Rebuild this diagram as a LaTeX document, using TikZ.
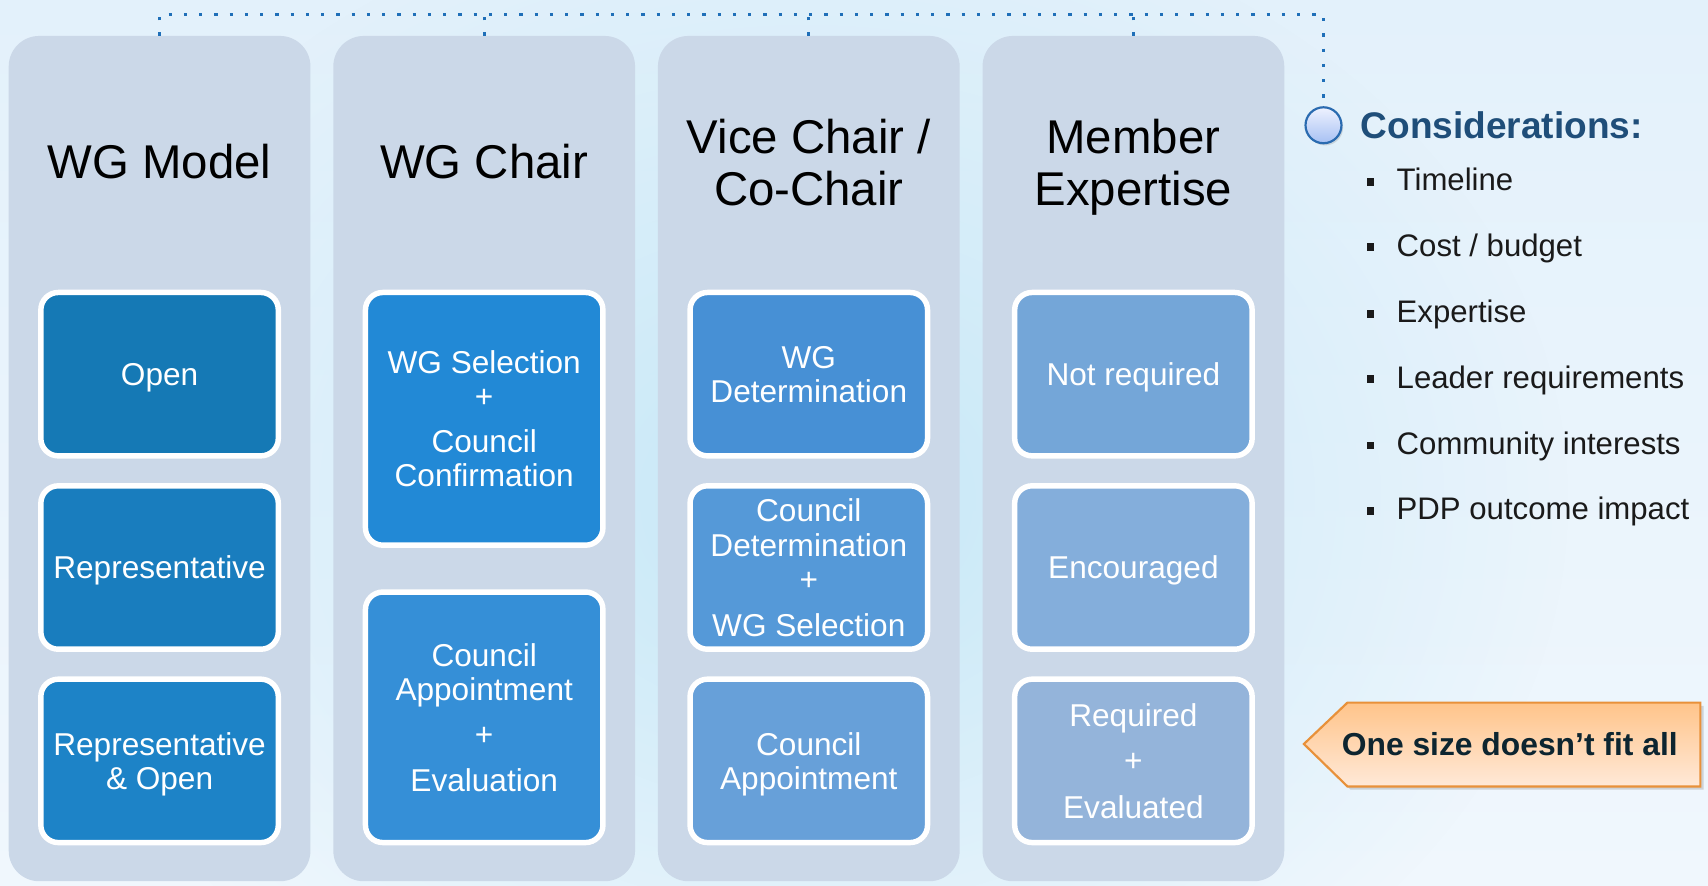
\documentclass[tikz,border=0pt]{standalone}
\usepackage{fontspec}
\setmainfont{Liberation Sans}
\usetikzlibrary{shadows,fadings}
\tikzfading[name=softblob, inner color=transparent!0, outer color=transparent!100]
\definecolor{bgtop}{HTML}{E3F1FB}
\definecolor{bgbot}{HTML}{F0F7FD}
\definecolor{bgcyan}{HTML}{C6E8F7}
\definecolor{panelc}{HTML}{CBD8E8}
\definecolor{dotc}{HTML}{1F6FB8}
\definecolor{ca}{HTML}{1579B5}
\definecolor{cb}{HTML}{197DBE}
\definecolor{cc}{HTML}{1D83C7}
\definecolor{cd}{HTML}{2289D6}
\definecolor{ce}{HTML}{358FD7}
\definecolor{cf}{HTML}{4790D5}
\definecolor{cg}{HTML}{5599D8}
\definecolor{ch}{HTML}{67A0D9}
\definecolor{ci}{HTML}{74A6D8}
\definecolor{cj}{HTML}{84AEDB}
\definecolor{ck}{HTML}{94B4DA}
\definecolor{consc}{HTML}{1F4E79}
\definecolor{listc}{HTML}{1A1A1A}
\definecolor{circtop}{HTML}{EEF2FF}
\definecolor{circbot}{HTML}{A7C0F3}
\definecolor{circline}{HTML}{2A6BB0}
\definecolor{caltop}{HTML}{FFC48A}
\definecolor{calbot}{HTML}{FFE9D8}
\definecolor{calline}{HTML}{E8913A}
\definecolor{caltext}{HTML}{0D2530}
\begin{document}
\begin{tikzpicture}[x=1pt,y=-1pt,
  panel/.style={fill=panelc, rounded corners=28pt, minimum width=277pt, minimum height=776pt, inner sep=0pt},
  title/.style={align=center, font=\fontsize{43.5}{47}\selectfont, text=black, inner sep=0pt, text depth=0pt},
  box/.style={draw=white, line width=5pt, rounded corners=16pt, minimum width=218pt, text=white, align=center, font=\fontsize{29}{31.5}\selectfont, inner sep=0pt, text depth=0pt},
  rowbox/.style={box, minimum height=150pt},
  dotline/.style={draw=dotc, line width=3pt, dash pattern=on 3pt off 11pt},
  bulletsq/.style={fill=listc, minimum size=7pt, inner sep=0pt},
  item/.style={anchor=base west, text=listc, font=\fontsize{28.6}{32}\selectfont, inner sep=0pt}
]
\useasboundingbox (0,0) rectangle (1568,812.5);
\fill[top color=bgtop, bottom color=bgbot] (0,0) rectangle (1568,812.5);
\fill[bgcyan, path fading=softblob] (740,460) ellipse [x radius=700pt, y radius=560pt];

% panels
\node[panel] (p1) at (146.5,421) {};
\node[panel] (p2) at (444.5,421) {};
\node[panel] (p3) at (742.5,421) {};
\node[panel] (p4) at (1040.5,421) {};

% dotted connector
\coordinate (tr) at (1215,13);
\node[circle, draw=circline, line width=2pt, top color=circtop, bottom color=circbot, minimum size=33pt, inner sep=0pt, drop shadow={opacity=0.25, shadow xshift=1.5pt, shadow yshift=-2pt}] (circ) at (1215,115) {};
\draw[dotline] (p1.north) |- (tr) -- (circ.north);
\foreach \p in {p2,p3,p4} \draw[dotline] (\p.north) -- (\p.north |- tr);

% titles
\node[title] (t1) at (146.5,148) {WG Model};
\node[title] (t2) at (444.5,148) {WG Chair};
\node[title] (t3) at (742.5,149) {Vice Chair /\\Co-Chair};
\node[title] (t4) at (1040.5,149) {Member\\Expertise};

% column 1
\node[rowbox, fill=ca] (b11) at (146.5,343.5) {Open};
\node[rowbox, fill=cb] (b12) at (146.5,521) {Representative};
\node[rowbox, fill=cc] (b13) at (146.5,698.5) {Representative\\\& Open};
% column 2
\node[box, fill=cd, minimum height=232pt] (b21) at (444.5,384.5) {WG Selection\\+\\[9.5pt]Council\\Confirmation};
\node[box, fill=ce, minimum height=230pt] (b22) at (444.5,658.5) {Council\\Appointment\\[9.5pt]+\\[10.5pt]Evaluation};
% column 3
\node[rowbox, fill=cf] (b31) at (742.5,343.5) {WG\\Determination};
\node[rowbox, fill=cg] (b32) at (742.5,521) {Council\\Determination\\+\\[10.5pt]WG Selection};
\node[rowbox, fill=ch] (b33) at (742.5,698.5) {Council\\Appointment};
% column 4
\node[rowbox, fill=ci] (b41) at (1040.5,343.5) {Not required};
\node[rowbox, fill=cj] (b42) at (1040.5,521) {Encouraged};
\node[rowbox, fill=ck] (b43) at (1040.5,698.5) {Required\\[9.5pt]+\\[11.5pt]Evaluated};

% considerations
\node[anchor=base west, text=consc, font=\bfseries\fontsize{34}{38}\selectfont, inner sep=0pt] (cons) at (1249,127) {Considerations:};
\foreach \n/\y/\t in {1/165/{Timeline}, 2/225/{Cost / budget}, 3/286/{Expertise}, 4/346/{Leader requirements}, 5/407/{Community interests}, 6/467/{PDP outcome impact}}{
  \node[bulletsq] (q\n) at (1258,\y+2) {};
  \node[item] (i\n) at (1282,\y+10.3) {\t};
}

% callout
\coordinate (ctip) at (1197,683);
\coordinate (ctl) at (1237,645);
\coordinate (ctr) at (1561,645);
\coordinate (cbr) at (1561,722);
\coordinate (cbl) at (1237,722);
\draw[calline, line width=2pt, top color=caltop, bottom color=calbot, drop shadow={opacity=0.3, shadow xshift=3pt, shadow yshift=-3pt}] (ctip) -- (ctl) -- (ctr) -- (cbr) -- (cbl) -- cycle;
\node[text=caltext, font=\bfseries\fontsize{29.2}{33}\selectfont, inner sep=0pt] (ctext) at (1386,683) {One size doesn’t fit all};
\end{tikzpicture}
\end{document}
